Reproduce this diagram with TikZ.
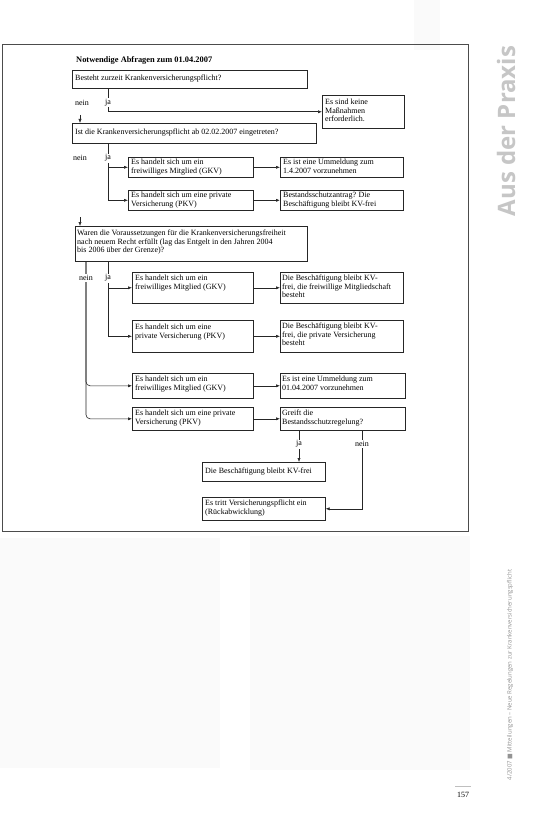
\documentclass[tikz,border=0pt]{standalone}
\usepackage{fontspec}
\setmainfont{Liberation Serif}
\newfontfamily\sansf{Open Sans}
\newfontfamily\dejavu{DejaVu Sans}
\usetikzlibrary{arrows.meta}
\begin{document}
\begin{tikzpicture}[x=1pt,y=-1pt,
  font=\fontsize{8}{8.4}\selectfont,
  box/.style={draw=black!85, line width=0.6pt, rectangle, inner sep=0pt, anchor=north west},
  txt/.style={anchor=north west, align=left, inner sep=0pt},
  con/.style={draw=black!85, line width=0.6pt},
  arr/.style={con, -{Latex[length=4pt,width=3.2pt]}},
  lab/.style={fill=white, inner sep=1pt},
  faint/.style={fill=gray!4, draw=none}]
\useasboundingbox (0,0) rectangle (534,832);
\fill[white] (0,0) rectangle (534,832);
% faint scan show-through
\path[faint] (414,0) rectangle (440,50);
\path[faint] (0,538) rectangle (220,768);
\path[faint] (250,536) rectangle (470,770);
% frame
\draw[gray!60!black, line width=0.8pt] (2,44) rectangle (468,531);
% title
\node[txt, font=\fontsize{8.4}{8.4}\selectfont\bfseries] (title) at (76,56) {Notwendige Abfragen zum 01.04.2007};
% boxes
\node[box, minimum width=235pt, minimum height=18pt] (b1) at (72,70) {};
\node[txt] (b1t) at ([shift={(3,5)}]b1.north west) {Besteht zurzeit Krankenversicherungspflicht?};
\node[box, minimum width=82pt, minimum height=33pt] (m0) at (322,95) {};
\node[txt] (m0t) at ([shift={(3,4)}]m0.north west) {Es sind keine\\Maßnahmen\\erforderlich.};
\node[box, minimum width=244pt, minimum height=20pt] (b2) at (72,123) {};
\node[txt] (b2t) at ([shift={(3,6)}]b2.north west) {Ist die Krankenversicherungspflicht ab 02.02.2007 eingetreten?};
\node[box, minimum width=125pt, minimum height=20pt] (a1) at (128,157) {};
\node[txt] (a1t) at ([shift={(3,2)}]a1.north west) {Es handelt sich um ein\\freiwilliges Mitglied (GKV)};
\node[box, minimum width=123pt, minimum height=20pt] (a2) at (280,157) {};
\node[txt] (a2t) at ([shift={(3,2)}]a2.north west) {Es ist eine Ummeldung zum\\1.4.2007 vorzunehmen};
\node[box, minimum width=125pt, minimum height=20pt] (p1) at (128,190) {};
\node[txt] (p1t) at ([shift={(3,2)}]p1.north west) {Es handelt sich um eine private\\Versicherung (PKV)};
\node[box, minimum width=123pt, minimum height=20pt] (p2) at (280,190) {};
\node[txt] (p2t) at ([shift={(3,2)}]p2.north west) {Bestandsschutzantrag? Die\\Beschäftigung bleibt KV-frei};
\node[box, minimum width=232pt, minimum height=35pt] (b3) at (75,226) {};
\node[txt] (b3t) at ([shift={(2,4)}]b3.north west) {Waren die Voraussetzungen für die Krankenversicherungsfreiheit\\nach neuem Recht erfüllt (lag das Entgelt in den Jahren 2004\\bis 2006 über der Grenze)?};
\node[box, minimum width=121pt, minimum height=31pt] (c1) at (132,272) {};
\node[txt] (c1t) at ([shift={(3,3)}]c1.north west) {Es handelt sich um ein\\freiwilliges Mitglied (GKV)};
\node[box, minimum width=123pt, minimum height=31pt] (c2) at (280,272) {};
\node[txt] (c2t) at ([shift={(2,3)}]c2.north west) {Die Beschäftigung bleibt KV-\\frei, die freiwillige Mitgliedschaft\\besteht};
\node[box, minimum width=121pt, minimum height=32pt] (d1) at (132,320) {};
\node[txt] (d1t) at ([shift={(3,4)}]d1.north west) {Es handelt sich um eine\\private Versicherung (PKV)};
\node[box, minimum width=123pt, minimum height=32pt] (d2) at (280,320) {};
\node[txt] (d2t) at ([shift={(2,3)}]d2.north west) {Die Beschäftigung bleibt KV-\\frei, die private Versicherung\\besteht};
\node[box, minimum width=121pt, minimum height=25pt] (e1) at (132,373) {};
\node[txt] (e1t) at ([shift={(3,3)}]e1.north west) {Es handelt sich um ein\\freiwilliges Mitglied (GKV)};
\node[box, minimum width=125pt, minimum height=25pt] (e2) at (280,373) {};
\node[txt] (e2t) at ([shift={(2,3)}]e2.north west) {Es ist eine Ummeldung zum\\01.04.2007 vorzunehmen};
\node[box, minimum width=121pt, minimum height=23pt] (f1) at (132,407) {};
\node[txt] (f1t) at ([shift={(3,3)}]f1.north west) {Es handelt sich um eine private\\Versicherung (PKV)};
\node[box, minimum width=125pt, minimum height=23pt] (f2) at (280,407) {};
\node[txt] (f2t) at ([shift={(2,3)}]f2.north west) {Greift die\\Bestandsschutzregelung?};
\node[box, minimum width=123pt, minimum height=19pt] (g) at (202,462) {};
\node[txt] (gt) at ([shift={(3,6)}]g.north west) {Die Beschäftigung bleibt KV-frei};
\node[box, minimum width=123pt, minimum height=23pt] (h) at (202,497) {};
\node[txt] (ht) at ([shift={(3,3)}]h.north west) {Es tritt Versicherungspflicht ein\\(Rückabwicklung)};
% guide coordinates
\coordinate (jx) at (108,0);
\coordinate (nx) at (86,0);
\coordinate (fj) at (299,0);
\coordinate (fn) at (362,0);
\coordinate (n1) at (80,115);
\coordinate (n2) at (80,217);
% connectors
\draw[arr] (b1.south -| jx) |- (m0.west);
\draw[arr] (n1) -- (n1 |- b2.north);
\draw[arr] (b2.south -| jx) |- (a1.west);
\draw[arr] (b2.south -| jx) |- (p1.west);
\draw[arr] (a1.east) -- (a2.west);
\draw[arr, line width=1pt] (p1.east) -- (p2.west);
\draw[arr] (n2) -- (n2 |- b3.north);
\draw[arr] (b3.south -| jx) |- (c1.west);
\draw[arr] (b3.south -| jx) |- (d1.west);
\draw[arr] (c1.east) -- (c2.west);
\draw[arr] (d1.east) -- (d2.west);
\draw[arr, rounded corners=4pt] (b3.south -| nx) |- (e1.west);
\draw[arr, rounded corners=4pt] (b3.south -| nx) |- (f1.west);
\draw[arr] (e1.east) -- (e2.west);
\draw[arr] (f1.east) -- (f2.west);
\draw[arr] (f2.south -| fj) -- (g.north -| fj);
\draw[arr] (f2.south -| fn) |- (h.east);
% labels
\node (l1n) at (82,103) {nein};
\node[lab] (l1j) at (108,103) {ja};
\node (l2n) at (80,158) {nein};
\node[lab] (l2j) at (108,158) {ja};
\node[lab] (l3n) at (86,278) {nein};
\node[lab] (l3j) at (108,278) {ja};
\node[lab] (l4j) at (299,444) {ja};
\node[lab] (l4n) at (362,444) {nein};
% margin texts
\node[rotate=90, text=gray!45, font=\sansf\bfseries\fontsize{24}{24}\selectfont] (praxis) at (506,131) {Aus der Praxis};
\node[rotate=90, text=gray!85, font=\sansf\fontsize{6}{6}\selectfont] (foot) at (510,675) {4/2007 {\dejavu ■} Mitteilungen – Neue Regelungen zur Krankenversicherungspflicht};
\draw[gray!50, line width=0.4pt] (455,786) -- (471,786);
\node[font=\fontsize{8}{8}\selectfont] (page) at (463,795) {157};
\end{tikzpicture}
\end{document}
